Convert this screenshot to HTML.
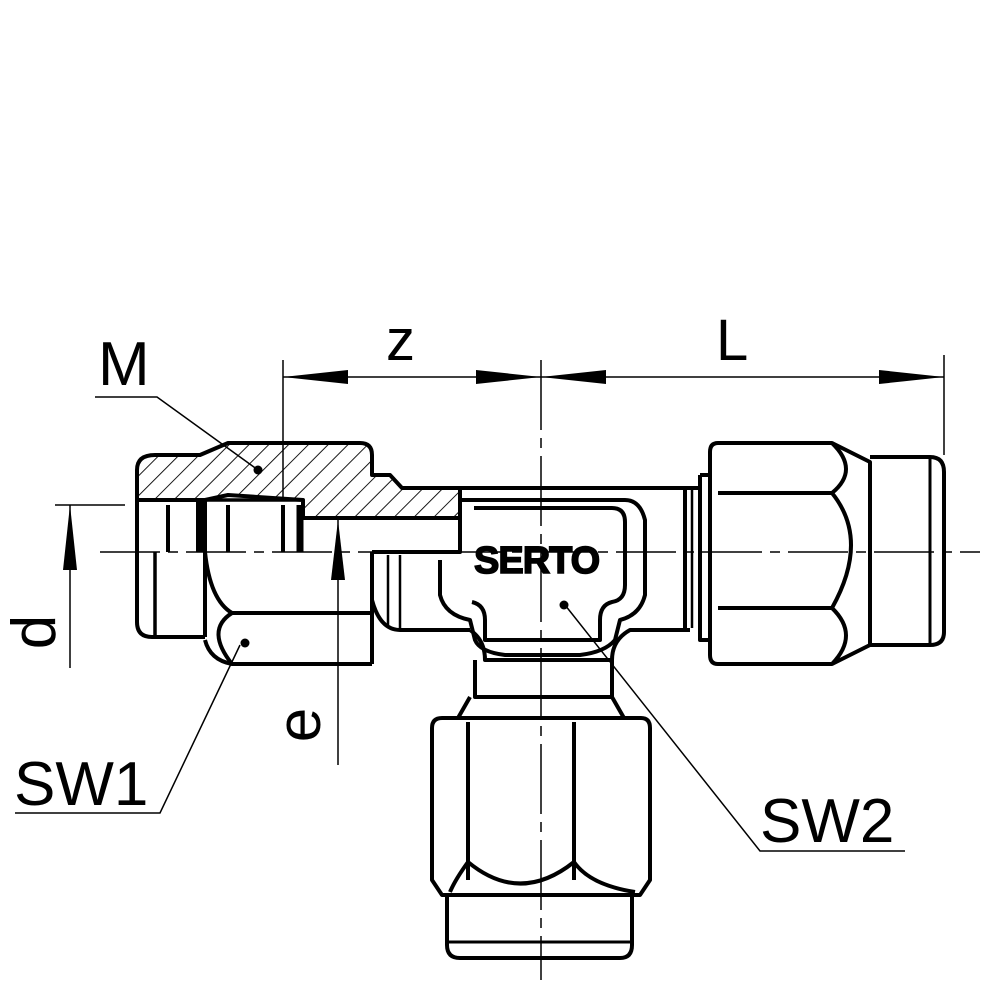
<!DOCTYPE html>
<html><head><meta charset="utf-8"><style>html,body{margin:0;padding:0;background:#fff}svg{display:block}</style></head><body>
<svg width="985" height="985" viewBox="0 0 985 985" xmlns="http://www.w3.org/2000/svg" font-family="Liberation Sans, sans-serif">
<defs>
<pattern id="h" patternUnits="userSpaceOnUse" width="14" height="14" patternTransform="rotate(45)">
<line x1="0" y1="0" x2="0" y2="14" stroke="#000" stroke-width="1.8"/></pattern>
</defs>
<rect width="985" height="985" fill="#fff"/>
<g fill="none" stroke="#000" stroke-width="1.5">
<line x1="100" y1="552" x2="980" y2="552" stroke-dasharray="60,8,10,8"/>
<line x1="541" y1="360" x2="541" y2="980" stroke-dasharray="70,8,10,8"/>
<line x1="283" y1="377" x2="944" y2="377"/>
<line x1="283" y1="360" x2="283" y2="500"/>
<line x1="944" y1="355" x2="944" y2="455"/>
<line x1="55" y1="505" x2="125" y2="505"/>
<line x1="70" y1="505" x2="70" y2="668"/>
<line x1="338" y1="520" x2="338" y2="765"/>
<polyline points="95,397 157,397 258,470"/>
<polyline points="15,813 160,813 240,645"/>
<polyline points="905,851 760,851 565,605"/>
</g>
<g fill="#000">
<polygon points="283,377 348,370 348,384"/>
<polygon points="541,377 476,370 476,384"/>
<polygon points="541,377 606,370 606,384"/>
<polygon points="944,377 879,370 879,384"/>
<polygon points="70,505 63,570 77,570"/>
<polygon points="338,520 331,580 345,580"/>
<circle cx="258" cy="470" r="4.5"/>
<circle cx="245" cy="643" r="4.5"/>
<circle cx="564" cy="605" r="4.5"/>
</g>
<g stroke="#000" stroke-width="4" stroke-linejoin="round">
<path d="M137,500 L137,470 Q137,455 155,455 L200,455 L228,443 L360,443 Q372,443 372,455 L372,475 L390,475 L402,488 L460,488 L460,518 L303,518 L303,500 L228,495 L205,500 Z" fill="url(#h)"/>
</g>
<g fill="none" stroke="#000" stroke-width="4" stroke-linejoin="round">
<path d="M137,500 L137,622 Q137,637 152,637 L205,637"/>
<line x1="205" y1="500" x2="205" y2="637"/>
<path d="M205,552 Q210,600 232,613 L372,613"/>
<path d="M205,640 Q210,660 232,664 L372,664"/>
<path d="M232,613 Q205,630 232,664"/>
<line x1="372" y1="552" x2="372" y2="664"/>
<line x1="155" y1="552" x2="155" y2="637" stroke-width="3.5"/>
<line x1="168" y1="505" x2="168" y2="552"/>
<line x1="200" y1="500" x2="200" y2="552" stroke-width="8"/>
<line x1="228" y1="505" x2="228" y2="552"/>
<line x1="283" y1="505" x2="283" y2="552"/>
<line x1="300" y1="505" x2="300" y2="552" stroke-width="7"/>
<line x1="137" y1="500" x2="303" y2="500" stroke-width="3.5"/>
<path d="M303,518 L460,518 L460,552 L372,552"/>
<path d="M372,552 L372,600 Q380,630 400,630 L470,630"/>
<line x1="388" y1="555" x2="388" y2="625" stroke-width="2.5"/>
<line x1="400" y1="555" x2="400" y2="628" stroke-width="2.5"/>
<path d="M460,488 L700,488"/>
<path d="M460,488 L460,552"/>
<path d="M470,630 Q485,640 485,660 L612,660 Q612,640 630,630 L690,630"/>
<path d="M460,500 L625,500 Q640,500 645,520 L645,595 Q640,615 620,620 L615,640 Q605,652 580,655 L505,655 Q480,652 475,640 L470,620 Q445,615 440,595 L440,560"/>
<path d="M474,508 L612,508 Q625,508 625,522 L625,585 Q625,600 612,602 Q600,605 600,620 L600,640 L485,640 L485,620 Q485,605 472,602"/>
<path d="M685,488 L685,630 M700,475 L700,640 L710,640 M700,475 L710,475"/>
<line x1="692" y1="490" x2="692" y2="628" stroke-width="2.5"/>
<path d="M718,443 L832,443 L870,462 L870,645 L832,664 L718,664 Q710,664 710,655 L710,452 Q710,443 718,443 Z"/>
<line x1="718" y1="493" x2="832" y2="493"/>
<line x1="718" y1="608" x2="832" y2="608"/>
<path d="M832,493 Q870,540 832,608 M832,443 Q860,470 832,493 M832,608 Q860,635 832,664"/>
<path d="M870,457 L930,457 Q944,457 944,472 L944,632 Q944,645 930,645 L870,645"/>
<line x1="930" y1="459" x2="930" y2="643" stroke-width="3"/>
<path d="M475,660 L475,697 L612,697 L612,660"/>
<path d="M470,697 L458,718 L624,718 L612,697"/>
<path d="M442,718 L641,718 Q650,718 650,728 L650,880 L640,895 L442,895 L432,880 L432,728 Q432,718 442,718 Z"/>
<line x1="468" y1="722" x2="468" y2="880"/>
<line x1="574" y1="722" x2="574" y2="880"/>
<path d="M468,862 Q520,905 574,862 M468,862 Q455,880 450,892 M574,862 Q590,885 635,892"/>
<path d="M447,895 L447,945 Q447,958 460,958 L620,958 Q632,958 632,945 L632,895"/>
<line x1="447" y1="942" x2="632" y2="942" stroke-width="3"/>
</g>
<g fill="#000">
<text x="98" y="385" font-size="62">M</text>
<text x="386" y="360" font-size="58">z</text>
<text x="716" y="360" font-size="58">L</text>
<text x="14" y="805" font-size="62">SW1</text>
<text x="760" y="842" font-size="62">SW2</text>
<text x="474" y="573" font-size="38" font-weight="bold" letter-spacing="-1" stroke="#000" stroke-width="1.5">SERTO</text>
<text transform="translate(55,632) rotate(-90)" font-size="62" text-anchor="middle">d</text>
<text transform="translate(320,725) rotate(-90)" font-size="62" text-anchor="middle">e</text>
</g>
</svg>
</body></html>
